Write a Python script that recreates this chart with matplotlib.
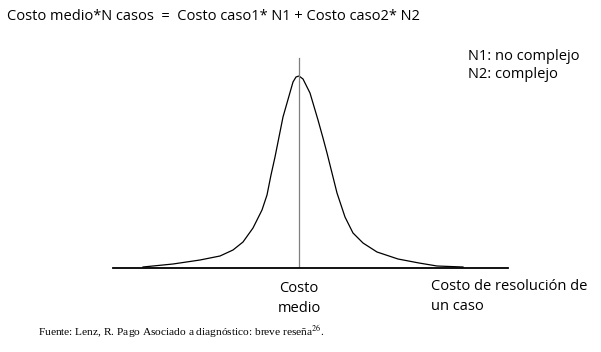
import matplotlib
matplotlib.use("Agg")
import matplotlib.pyplot as plt

# curve: cost offset from the mean vs. number of cases
costo = [-156, -126, -99, -79, -66, -56, -46, -37, -32, -28, -24, -20, -16, -12, -6, -3, 0,
         4, 11, 19, 24, 28, 33, 38, 46, 54, 64, 78, 99, 120, 138, 164]
casos = [1, 4, 8, 12, 18, 26, 40, 58, 73, 93, 111, 131, 151, 165, 186, 191, 192,
         189, 175, 148, 130, 115, 95, 75, 51, 35, 25, 16, 9, 5, 2, 1]

costo_medio = 0
formula = "Costo medio*N casos  =  Costo caso1* N1 + Costo caso2* N2"
leyenda = ["N1: no complejo", "N2: complejo"]
fuente = "Fuente: Lenz, R. Pago Asociado a diagnóstico: breve reseña"

W, H = 601, 352
fig = plt.figure(figsize=(W / 100, H / 100), dpi=100)
plt.rcParams['mathtext.fontset'] = 'stix'

# axes placed so one data unit ~ one pixel
ax = fig.add_axes([113 / W, (H - 268) / H, 395 / W, 228 / H])
ax.set_xlim(-186, 209)
ax.set_ylim(0, 228)
for s in ['top', 'right', 'left']:
    ax.spines[s].set_visible(False)
ax.spines['bottom'].set_linewidth(1.3)
ax.set_xticks([])
ax.set_yticks([])

ax.plot(costo, casos, color='black', lw=0.9, solid_joinstyle='round')
ax.plot([costo_medio, costo_medio], [0, 210], color='#7f7f7f', lw=0.9)

fnt = 'Open Sans'
fig.text(7 / W, 1 - 17 / H, formula, family=fnt, fontsize=10.5, va='center', ha='left')
fig.text(468 / W, 1 - 57 / H, leyenda[0], family=fnt, fontsize=10.5, va='center')
fig.text(468 / W, 1 - 74 / H, leyenda[1], family=fnt, fontsize=10.5, va='center')

fig.text(299 / W, 1 - 288 / H, "Costo", family=fnt, fontsize=10.5, va='center', ha='center')
fig.text(299 / W, 1 - 309 / H, "medio", family=fnt, fontsize=10.5, va='center', ha='center')
fig.text(431 / W, 1 - 286 / H, "Costo de resolución de", family=fnt, fontsize=10.5, va='center')
fig.text(431 / W, 1 - 307 / H, "un caso", family=fnt, fontsize=10.5, va='center')

fig.text(38 / W, 1 - 332 / H, fuente + r"$^{26}$.", family='Liberation Serif',
         fontsize=8.2, va='center')

fig.savefig('out.png', dpi=100)
